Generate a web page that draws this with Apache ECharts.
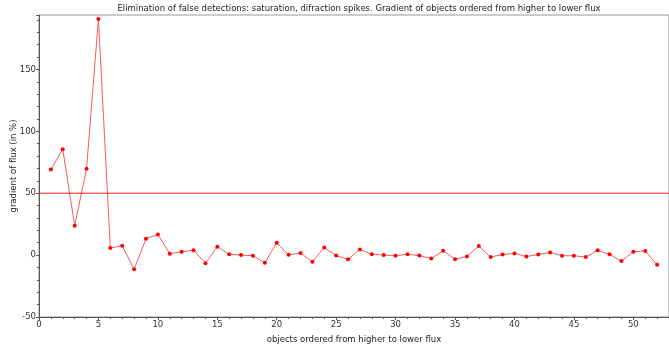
<!DOCTYPE html>
<html>
<head>
<meta charset="utf-8">
<script src="https://cdn.jsdelivr.net/npm/echarts@6/dist/echarts.min.js"></script>
<style>html,body{margin:0;padding:0;background:#fff}#c{width:669px;height:350px}</style>
</head>
<body>
<div id="c"></div>
<script>
var titleText = 'Elimination of false detections: saturation, difraction spikes. Gradient of objects ordered from higher to lower flux';
var xName = 'objects ordered from higher to lower flux';
var yName = 'gradient of flux (in %)';
var objectIndex = [1,2,3,4,5,6,7,8,9,10,11,12,13,14,15,16,17,18,19,20,21,22,23,24,25,26,27,28,29,30,31,32,33,34,35,36,37,38,39,40,41,42,43,44,45,46,47,48,49,50,51,52];
var gradient = [69.1,85.6,23.8,69.7,190.8,5.7,7.6,-11.5,13.3,16.7,1.1,2.7,3.9,-6.5,6.8,0.7,0,-0.5,-6.2,10,0.2,1.7,-5.4,6.2,-0.4,-3.3,4.5,0.7,0,-0.5,0.7,-0.4,-2.7,3.5,-3.3,-1.1,7.4,-1.6,0.5,1.4,-1.1,0.5,2.2,-0.5,-0.5,-1.6,3.9,0.6,-4.8,2.8,3.4,-7.7];
var threshold = 50;
var xMin = 0, xMax = 53;

var chart = echarts.init(document.getElementById('c'));
var font = 'DejaVu Sans';
var fs = 8.5;
chart.setOption({
  animation: false,
  title: {text: titleText, left: 354, textAlign: 'center', top: -1, textStyle: {fontFamily: font, fontSize: fs, fontWeight: 'normal', color: '#222'}},
  grid: {left: 39, right: 0, top: 15, bottom: 33, show: true, borderColor: '#999', borderWidth: 1, outerBoundsMode: 'none', containLabel: false},
  xAxis: {
    type: 'value', min: xMin, max: xMax, interval: 5,
    name: xName, nameLocation: 'middle', nameGap: 18, nameMoveOverlap: false,
    nameTextStyle: {fontFamily: font, fontSize: fs, color: '#222'},
    axisLine: {show: true, onZero: false, lineStyle: {color: '#555'}},
    axisTick: {show: true, length: 3, inside: false, lineStyle: {color: '#555'}},
    minorTick: {show: true, splitNumber: 5, length: 2, lineStyle: {color: '#555'}},
    axisLabel: {fontFamily: font, fontSize: fs, color: '#333', margin: 3, showMaxLabel: false},
    splitLine: {show: false}
  },
  yAxis: {
    type: 'value', min: -50, max: 194, interval: 50,
    name: yName, nameLocation: 'middle', nameGap: 21, nameMoveOverlap: false,
    nameTextStyle: {fontFamily: font, fontSize: fs, color: '#222'},
    axisLine: {show: true, lineStyle: {color: '#555'}},
    axisTick: {show: true, length: 3, lineStyle: {color: '#555'}},
    minorTick: {show: true, splitNumber: 5, length: 2, lineStyle: {color: '#555'}},
    axisLabel: {fontFamily: font, fontSize: fs, color: '#333', margin: 3, showMaxLabel: false},
    splitLine: {show: false}
  },
  series: [{
    type: 'line',
    name: 'threshold',
    data: [[xMin, threshold], [xMax, threshold]],
    symbol: 'none', silent: true, z: 10,
    lineStyle: {color: '#ff1a1a', width: 1},
    itemStyle: {color: '#ff1a1a'},
    emphasis: {disabled: true}
  }, {
    type: 'line',
    name: 'gradient',
    data: objectIndex.map(function (x, i) { return [x, gradient[i]]; }),
    symbol: 'circle', symbolSize: 4,
    lineStyle: {color: '#f25c5c', width: 1},
    itemStyle: {color: '#ff0000'},
    z: 3
  }]
});
</script>
</body>
</html>
